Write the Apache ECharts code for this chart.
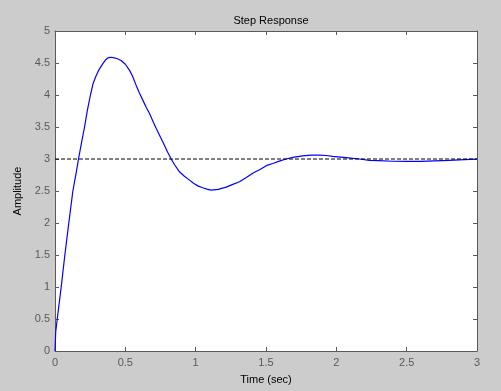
<!DOCTYPE html>
<html>
<head>
<meta charset="utf-8">
<script src="https://cdn.jsdelivr.net/npm/echarts@6/dist/echarts.min.js"></script>
<style>
html,body{margin:0;padding:0;background:#cccccc;}
#c{width:501px;height:391px;}
</style>
</head>
<body>
<div id="c"></div>
<script>
var titleText = "Step Response";
var xLabel = "Time (sec)";
var yLabel = "Amplitude";
var timeValues = [0, 0.005, 0.016, 0.044, 0.07, 0.098, 0.127, 0.15, 0.167, 0.19, 0.21, 0.23, 0.252, 0.271, 0.29, 0.309, 0.34, 0.36, 0.38, 0.40, 0.42, 0.44, 0.47, 0.50, 0.53, 0.55, 0.577, 0.60, 0.624, 0.65, 0.672, 0.70, 0.719, 0.75, 0.766, 0.80, 0.826, 0.85, 0.885, 0.92, 0.956, 0.985, 1.015, 1.05, 1.08, 1.11, 1.16, 1.217, 1.26, 1.311, 1.36, 1.406, 1.46, 1.512, 1.548, 1.60, 1.643, 1.70, 1.76, 1.82, 1.88, 1.93, 1.974, 2.07, 2.164, 2.235, 2.3, 2.4, 2.5, 2.6, 2.7, 2.8, 2.95, 3.0];
var amplitudeValues = [0, 0.3, 0.5, 1.0, 1.5, 2.0, 2.5, 2.78, 3.0, 3.27, 3.5, 3.76, 4.0, 4.18, 4.29, 4.38, 4.49, 4.55, 4.585, 4.59, 4.58, 4.57, 4.54, 4.48, 4.385, 4.30, 4.15, 4.03, 3.92, 3.80, 3.71, 3.57, 3.48, 3.34, 3.27, 3.11, 3.0, 2.91, 2.80, 2.73, 2.67, 2.62, 2.58, 2.55, 2.53, 2.515, 2.525, 2.56, 2.60, 2.645, 2.71, 2.776, 2.84, 2.905, 2.93, 2.97, 3.0, 3.03, 3.05, 3.06, 3.06, 3.055, 3.04, 3.02, 3.0, 2.98, 2.975, 2.965, 2.962, 2.962, 2.972, 2.98, 2.995, 3.0];
var finalValue = 3;
var xRange = [0, 3];
var yRange = [0, 5];
var tickStep = 0.5;

var responseData = timeValues.map(function (t, i) { return [t, amplitudeValues[i]]; });
var finalData = [[xRange[0], finalValue], [xRange[1], finalValue]];

var axisCol = '#5a5a5a';
var labelCol = '#5a5a5a';
var font = 'Liberation Sans, Arial, sans-serif';

function mkX(pos, showLabel) {
  return {
    type: 'value', position: pos, min: xRange[0], max: xRange[1], interval: tickStep,
    axisLine: {show: true, onZero: false, lineStyle: {color: axisCol, width: 1}},
    axisTick: {show: true, inside: true, length: 4, lineStyle: {color: axisCol}},
    axisLabel: {show: showLabel, color: labelCol, fontSize: 11, fontFamily: font, margin: 6},
    splitLine: {show: false},
    name: showLabel ? xLabel : '', nameLocation: 'middle', nameGap: 23,
    nameTextStyle: {color: '#000', fontSize: 11, fontFamily: font}
  };
}
function mkY(pos, showLabel) {
  return {
    type: 'value', position: pos, min: yRange[0], max: yRange[1], interval: tickStep,
    axisLine: {show: true, onZero: false, lineStyle: {color: axisCol, width: 1}},
    axisTick: {show: true, inside: true, length: 4, lineStyle: {color: axisCol}},
    axisLabel: {show: showLabel, color: labelCol, fontSize: 11, fontFamily: font, margin: 5},
    splitLine: {show: false},
    name: showLabel ? yLabel : '', nameLocation: 'middle', nameGap: 28, nameRotate: 90,
    nameTextStyle: {color: '#000', fontSize: 11, fontFamily: font}
  };
}

var chart = echarts.init(document.getElementById('c'), null, {renderer: 'canvas'});
chart.setOption({
  animation: false,
  backgroundColor: '#cccccc',
  title: {
    text: titleText, left: 266, top: 10, textAlign: 'center',
    textStyle: {color: '#000', fontSize: 11, fontWeight: 'normal', fontFamily: font}
  },
  grid: {left: 55, top: 31, width: 422, height: 320, show: true, backgroundColor: '#ffffff', borderWidth: 0},
  xAxis: [mkX('bottom', true), mkX('top', false)],
  yAxis: [mkY('left', true), mkY('right', false)],
  series: [
    {type: 'line', data: responseData, showSymbol: false, smooth: false,
     lineStyle: {color: '#0000ff', width: 1.2}, xAxisIndex: 0, yAxisIndex: 0},
    {type: 'line', data: finalData, showSymbol: false,
     lineStyle: {color: '#000000', width: 1, type: [4, 2]}, xAxisIndex: 0, yAxisIndex: 0}
  ]
});
</script>
</body>
</html>
